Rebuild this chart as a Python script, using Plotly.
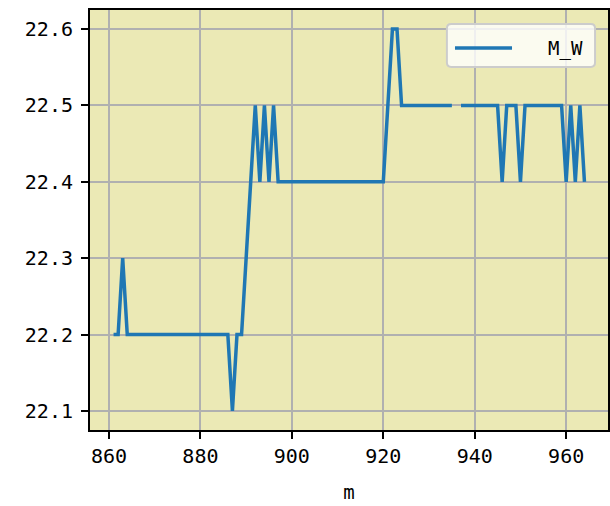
import plotly.graph_objects as go

m_values = [861, 862, 863, 864, 865, 866, 867, 868, 869, 870,
            871, 872, 873, 874, 875, 876, 877, 878, 879, 880,
            881, 882, 883, 884, 885, 886, 887, 888, 889, 890,
            891, 892, 893, 894, 895, 896, 897, 898, 899, 900,
            901, 902, 903, 904, 905, 906, 907, 908, 909, 910,
            911, 912, 913, 914, 915, 916, 917, 918, 919, 920,
            921, 922, 923, 924, 925, 926, 927, 928, 929, 930,
            931, 932, 933, 934, 935, 936, 937, 938, 939, 940,
            941, 942, 943, 944, 945, 946, 947, 948, 949, 950,
            951, 952, 953, 954, 955, 956, 957, 958, 959, 960,
            961, 962, 963, 964]

mw_values = [22.2, 22.2, 22.3, 22.2, 22.2, 22.2, 22.2, 22.2, 22.2, 22.2,
             22.2, 22.2, 22.2, 22.2, 22.2, 22.2, 22.2, 22.2, 22.2, 22.2,
             22.2, 22.2, 22.2, 22.2, 22.2, 22.2, 22.1, 22.2, 22.2, 22.3,
             22.4, 22.5, 22.4, 22.5, 22.4, 22.5, 22.4, 22.4, 22.4, 22.4,
             22.4, 22.4, 22.4, 22.4, 22.4, 22.4, 22.4, 22.4, 22.4, 22.4,
             22.4, 22.4, 22.4, 22.4, 22.4, 22.4, 22.4, 22.4, 22.4, 22.4,
             22.5, 22.6, 22.6, 22.5, 22.5, 22.5, 22.5, 22.5, 22.5, 22.5,
             22.5, 22.5, 22.5, 22.5, 22.5, None, 22.5, 22.5, 22.5, 22.5,
             22.5, 22.5, 22.5, 22.5, 22.5, 22.4, 22.5, 22.5, 22.5, 22.4,
             22.5, 22.5, 22.5, 22.5, 22.5, 22.5, 22.5, 22.5, 22.5, 22.4,
             22.5, 22.4, 22.5, 22.4]

x_ticks = [860, 880, 900, 920, 940, 960]
y_ticks = [22.1, 22.2, 22.3, 22.4, 22.5, 22.6]
y_tick_labels = ["22.1", "22.2", "22.3", "22.4", "22.5", "22.6"]
series_name = "M_W"
x_label = "m"

FONT = "DejaVu Sans Mono, Liberation Mono, monospace"
LINE_COLOR = "#1f77b4"

fig = go.Figure()
fig.add_trace(go.Scatter(
    x=m_values, y=mw_values, mode="lines", name=series_name,
    line=dict(color=LINE_COLOR, width=3.5),
    connectgaps=False, showlegend=False,
))

axis_common = dict(
    showgrid=True, gridcolor="#b0b0b0", gridwidth=1.6,
    showline=True, linecolor="black", linewidth=2, mirror=True,
    ticks="outside", ticklen=7, tickwidth=1.5, tickcolor="black",
    zeroline=False, automargin=False,
    tickfont=dict(family=FONT, size=20, color="black"),
)

fig.update_xaxes(
    range=[855.85, 969.15], tickvals=x_ticks,
    title=dict(text=x_label, font=dict(family=FONT, size=19, color="black"), standoff=19),
    **axis_common,
)
fig.update_yaxes(
    range=[22.075, 22.625], tickvals=y_ticks, ticktext=y_tick_labels,
    ticklabelstandoff=4,
    **axis_common,
)

# legend box drawn manually (paper coords of the plot area)
x0, x1, y0, y1 = 0.689, 0.975, 0.8643, 0.9667
rx, ry = 0.0085, 0.0105
box_path = (
    f"M {x0+rx},{y0} L {x1-rx},{y0} Q {x1},{y0} {x1},{y0+ry} "
    f"L {x1},{y1-ry} Q {x1},{y1} {x1-rx},{y1} "
    f"L {x0+rx},{y1} Q {x0},{y1} {x0},{y1-ry} "
    f"L {x0},{y0+ry} Q {x0},{y0} {x0+rx},{y0} Z"
)
fig.add_shape(type="path", path=box_path, xref="paper", yref="paper",
              fillcolor="rgba(255,255,255,0.8)", line=dict(color="#cccccc", width=2),
              layer="above")
fig.add_shape(type="line", xref="paper", yref="paper",
              x0=0.7046, x1=0.8147, y0=0.9095, y1=0.9095,
              line=dict(color=LINE_COLOR, width=3.5), layer="above")
fig.add_annotation(text=series_name, xref="paper", yref="paper",
                   x=0.955, y=0.9095, xanchor="right", yanchor="middle",
                   showarrow=False, font=dict(family=FONT, size=19, color="black"))

fig.update_layout(
    width=610, height=506,
    margin=dict(l=90, r=2, t=10, b=76),
    plot_bgcolor="#ebe9b5",
    paper_bgcolor="white",
    showlegend=False,
)

fig.write_html(
    "out.html",
    config={"displayModeBar": False},
    post_script="document.body.style.margin='0';document.body.style.overflow='hidden';",
)
